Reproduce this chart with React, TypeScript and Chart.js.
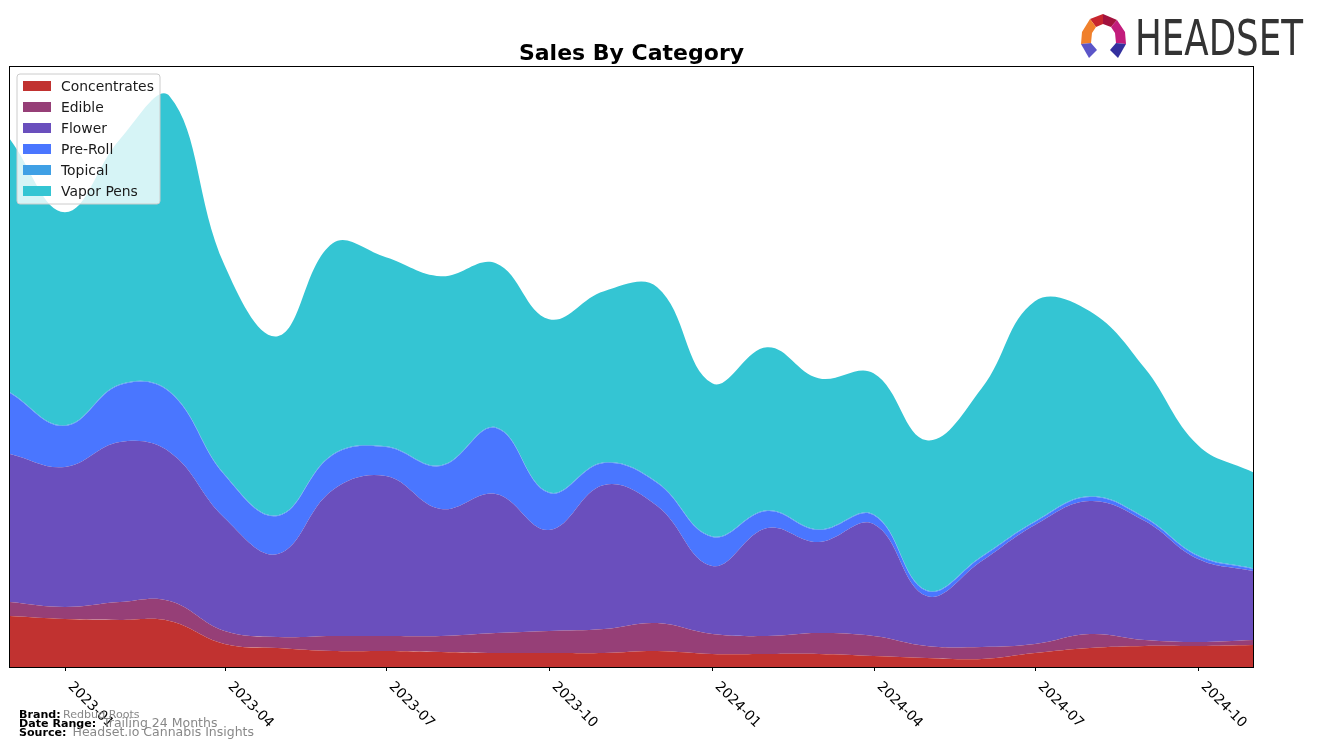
import React, { useEffect, useRef } from 'react';
import { Chart, registerables } from 'chart.js';

Chart.register(...registerables);

const MONTHS = [
  '2022-12', '2023-01', '2023-02', '2023-03', '2023-04', '2023-05', '2023-06', '2023-07',
  '2023-08', '2023-09', '2023-10', '2023-11', '2023-12', '2024-01', '2024-02', '2024-03',
  '2024-04', '2024-05', '2024-06', '2024-07', '2024-08', '2024-09', '2024-10', '2024-11',
];

const CONCENTRATES = [51, 48, 47, 46, 23, 19, 16, 16, 15, 14, 14, 14, 16, 13, 13, 13, 11, 9, 8, 14, 19, 21, 21, 22];
const EDIBLE = [14, 12, 18, 20, 13, 11, 15, 15, 16, 20, 22, 24, 28, 20, 18, 21, 20, 12, 12, 9, 14, 6, 4, 5];
const FLOWER = [148, 140, 160, 149, 113, 83, 146, 160, 127, 139, 101, 144, 117, 68, 108, 91, 112, 50, 86, 119, 133, 119, 83, 69];
const PRE_ROLL = [61, 41, 57, 60, 43, 38, 35, 29, 43, 66, 37, 22, 23, 29, 17, 12, 9, 5, 4, 3, 4, 3, 3, 2];
const TOPICAL = [0.8, 0.8, 0.8, 0.8, 0.8, 0.8, 0.8, 0.8, 0.8, 0.8, 0.8, 0.8, 0.8, 0.8, 0.8, 0.8, 0.8, 0.8, 0.8, 0.8, 0.8, 0.8, 0.8, 0.8];
const VAPOR_PENS = [253, 213, 245, 295, 209, 179, 211, 189, 189, 164, 173, 171, 195, 153, 163, 151, 141, 150, 168, 220, 185, 149, 110, 96];

const SERIES_NAMES = ['Concentrates', 'Edible', 'Flower', 'Pre-Roll', 'Topical', 'Vapor Pens'];
const SERIES_VALUES = [CONCENTRATES, EDIBLE, FLOWER, PRE_ROLL, TOPICAL, VAPOR_PENS];
const SERIES_COLORS = ['#C13230', '#963F77', '#6A4FBD', '#4A76FF', '#3FA0E5', '#34C5D3'];

const TICK_LABELS = ['2023-01', '2023-04', '2023-07', '2023-10', '2024-01', '2024-04', '2024-07', '2024-10'];

const TITLE = 'Sales By Category';
const FOOTER = [
  { label: 'Brand:', value: 'Redbud Roots' },
  { label: 'Date Range:', value: 'Trailing 24 Months' },
  { label: 'Source:', value: 'Headset.io Cannabis Insights' },
];

const START = Date.UTC(2022, 11, 1);
function dayOf(ym: string): number {
  const [y, m] = ym.split('-').map(Number);
  return Math.round((Date.UTC(y, m - 1, 1) - START) / 86400000);
}

const FONT = '"DejaVu Sans", "Liberation Sans", sans-serif';

function drawLogo(ctx: CanvasRenderingContext2D) {
  const polys: [string, number[][]][] = [
    ['#C8262E', [[1103, 14], [1090, 19], [1096, 27], [1103, 24]]],
    ['#A3123E', [[1103, 14], [1117, 20], [1111, 27], [1103, 24]]],
    ['#F0802C', [[1090, 19], [1082, 32], [1081, 44], [1091, 43], [1092, 33], [1096, 27]]],
    ['#C21C7C', [[1117, 20], [1125, 32], [1126, 44], [1116, 43], [1115, 33], [1111, 27]]],
    ['#5B55C8', [[1081, 44], [1091, 43], [1097, 50], [1089, 58]]],
    ['#34309E', [[1126, 44], [1116, 43], [1110, 50], [1118, 58]]],
  ];
  polys.forEach(([c, pts]) => {
    ctx.beginPath();
    pts.forEach(([x, y], i) => (i ? ctx.lineTo(x, y) : ctx.moveTo(x, y)));
    ctx.closePath();
    ctx.fillStyle = c;
    ctx.fill();
  });
  ctx.save();
  ctx.font = `49px ${FONT}`;
  const w = ctx.measureText('HEADSET').width;
  ctx.translate(1135, 55);
  ctx.scale(168 / w, 1);
  ctx.fillStyle = '#333333';
  ctx.textAlign = 'left';
  ctx.textBaseline = 'alphabetic';
  ctx.fillText('HEADSET', 0, 0);
  ctx.restore();
}

const decorPlugin = {
  id: 'decor',
  afterDraw(chart: any) {
    const ctx: CanvasRenderingContext2D = chart.ctx;
    const { left, top, right, bottom } = chart.chartArea;
    const xs = chart.scales.x;
    ctx.save();

    // plot frame
    ctx.strokeStyle = '#000';
    ctx.lineWidth = 1;
    ctx.strokeRect(left - 0.5, top - 0.5, right - left + 1, bottom - top + 1);

    // ticks and rotated labels
    ctx.font = `13.9px ${FONT}`;
    ctx.fillStyle = '#000';
    TICK_LABELS.forEach((lbl) => {
      const px = Math.round(xs.getPixelForValue(dayOf(lbl))) + 0.5;
      ctx.beginPath();
      ctx.moveTo(px, bottom);
      ctx.lineTo(px, bottom + 4);
      ctx.stroke();
      ctx.save();
      ctx.translate(px + 2, bottom + 20);
      ctx.rotate(Math.PI / 4);
      ctx.textAlign = 'left';
      ctx.textBaseline = 'alphabetic';
      ctx.fillText(lbl, 0, 0);
      ctx.restore();
    });

    // title
    ctx.font = `bold 22px ${FONT}`;
    ctx.textAlign = 'center';
    ctx.textBaseline = 'alphabetic';
    ctx.fillText(TITLE, (left + right) / 2, 60);

    // legend
    const lx = 17, ly = 74, lw = 143, lh = 130, r = 3;
    ctx.beginPath();
    ctx.moveTo(lx + r, ly);
    ctx.lineTo(lx + lw - r, ly);
    ctx.quadraticCurveTo(lx + lw, ly, lx + lw, ly + r);
    ctx.lineTo(lx + lw, ly + lh - r);
    ctx.quadraticCurveTo(lx + lw, ly + lh, lx + lw - r, ly + lh);
    ctx.lineTo(lx + r, ly + lh);
    ctx.quadraticCurveTo(lx, ly + lh, lx, ly + lh - r);
    ctx.lineTo(lx, ly + r);
    ctx.quadraticCurveTo(lx, ly, lx + r, ly);
    ctx.closePath();
    ctx.fillStyle = 'rgba(255,255,255,0.8)';
    ctx.fill();
    ctx.strokeStyle = '#cccccc';
    ctx.stroke();
    ctx.font = `13.9px ${FONT}`;
    ctx.textAlign = 'left';
    SERIES_NAMES.forEach((name, i) => {
      const cy = 86 + i * 21;
      ctx.fillStyle = SERIES_COLORS[i];
      ctx.fillRect(23, cy - 5, 28, 10);
      ctx.fillStyle = '#1a1a1a';
      ctx.fillText(name, 61, cy + 5);
    });

    // footer
    const labelY = [718, 727, 736];
    const valueX = [63, 103, 72.5];
    const valueSize = [11.1, 12.5, 12.5];
    FOOTER.forEach((f, i) => {
      ctx.font = `bold 11.1px ${FONT}`;
      ctx.fillStyle = '#000';
      ctx.fillText(f.label, 19, labelY[i]);
      ctx.font = `${valueSize[i]}px ${FONT}`;
      ctx.fillStyle = '#888888';
      ctx.fillText(f.value, valueX[i], labelY[i]);
    });

    drawLogo(ctx);
    ctx.restore();
  },
};

export default function App() {
  const ref = useRef<HTMLCanvasElement | null>(null);

  useEffect(() => {
    if (!ref.current) return;
    const xVals = MONTHS.map(dayOf);
    const chart = new Chart(ref.current, {
      type: 'line',
      data: {
        datasets: SERIES_NAMES.map((name, i) => ({
          label: name,
          data: SERIES_VALUES[i].map((v, j) => ({ x: xVals[j], y: v })),
          backgroundColor: SERIES_COLORS[i],
          borderColor: SERIES_COLORS[i],
          borderWidth: 0,
          pointRadius: 0,
          tension: 0.4,
          fill: i === 0 ? 'origin' : '-1',
        })),
      },
      options: {
        responsive: false,
        animation: false,
        devicePixelRatio: 1,
        layout: { padding: { left: 10, top: 67, right: 64, bottom: 81 } },
        scales: {
          x: { type: 'linear', display: false, min: xVals[0], max: xVals[xVals.length - 1] },
          y: { display: false, stacked: true, min: 0, max: 600 },
        },
        plugins: {
          legend: { display: false },
          title: { display: false },
          tooltip: { enabled: false },
        },
        events: [],
      },
      plugins: [decorPlugin],
    } as any);
    return () => chart.destroy();
  }, []);

  return (
    <div style={{ position: 'absolute', left: 0, top: 0, width: 1317, height: 748, background: '#fff' }}>
      <canvas ref={ref} width={1317} height={748} style={{ display: 'block' }} />
    </div>
  );
}
